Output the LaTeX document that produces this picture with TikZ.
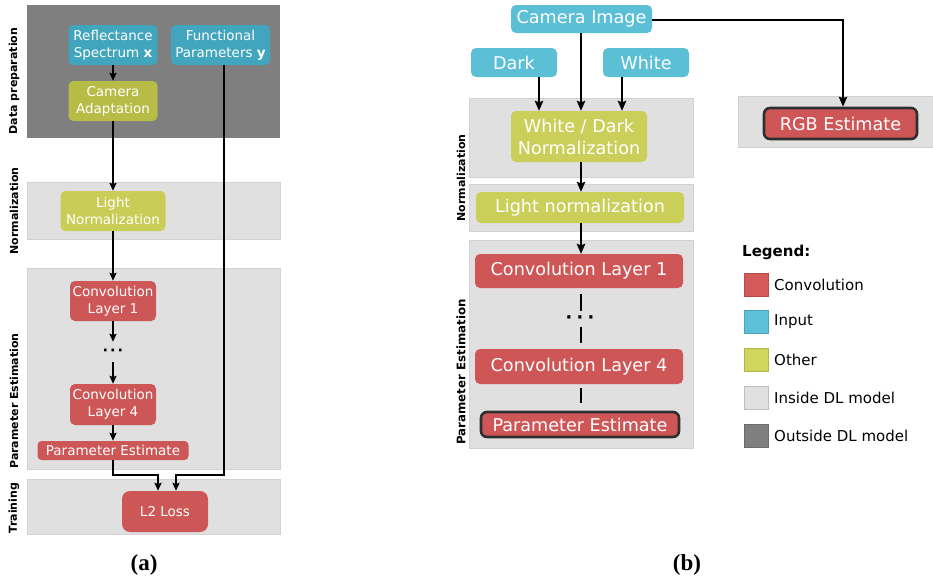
\documentclass[tikz,border=0pt]{standalone}
\usepackage{fontspec}
\newfontfamily\dv{DejaVu Sans}
\newfontfamily\capfont{Liberation Serif}
\usetikzlibrary{arrows.meta,calc}

\definecolor{outside}{HTML}{7F7F7F}
\definecolor{inside}{HTML}{E0E0E0}
\definecolor{insideedge}{HTML}{D2D2D2}
\definecolor{blueL}{HTML}{41A5BD}
\definecolor{greenDL}{HTML}{B6BC46}
\definecolor{greenL}{HTML}{C9CD57}
\definecolor{redL}{HTML}{CD5656}
\definecolor{blueR}{HTML}{5BBFD6}
\definecolor{greenR}{HTML}{C9CF59}
\definecolor{redR}{HTML}{CF5656}
\definecolor{legred}{HTML}{D45A5A}
\definecolor{legblue}{HTML}{5BC0D8}
\definecolor{leggreen}{HTML}{CED65B}
\definecolor{edgedark}{HTML}{2F2F2F}

\tikzset{
  band/.style={fill=inside, draw=insideedge, line width=0.6pt},
  darkband/.style={fill=outside},
  lbox/.style={rounded corners=5pt, text=white, align=center, inner sep=0pt,
    font=\dv\fontsize{13.5}{17}\selectfont},
  rbox/.style={rounded corners=5pt, text=white, align=center, inner sep=0pt,
    font=\dv\fontsize{17.6}{22}\selectfont},
  outlined/.style={draw=edgedark, line width=2.6pt, rounded corners=6pt},
  sidelabel/.style={rotate=90, font=\dv\bfseries\fontsize{11}{13}\selectfont},
  larr/.style={line width=1.8pt, -{Stealth[length=8pt,width=7pt,inset=1.2pt]}},
  rarr/.style={line width=1.7pt, -{Stealth[length=10pt,width=8.5pt,inset=1.5pt]}},
  plain/.style={line width=1.7pt},
  swatch/.style={minimum width=24pt, minimum height=23pt, inner sep=0pt, draw=#1!85!black, line width=0.4pt, fill=#1},
  legtext/.style={anchor=west, inner sep=0pt, font=\dv\fontsize{15}{18}\selectfont},
  figlabel/.style={inner sep=0pt, font=\capfont\bfseries\fontsize{23}{25}\selectfont}
}

\begin{document}
\begin{tikzpicture}[x=1pt, y=-1pt]
\useasboundingbox (0,0) rectangle (933,581);

% ---------------- left pipeline: training setup ----------------
\path[darkband] (27,5) rectangle (280,138);
\path[band] (27,182) rectangle (280,239);
\path[band] (27,268) rectangle (280,469);
\path[band] (27,479) rectangle (280,534);

\node[sidelabel] (lDP) at (14,81) {Data preparation};
\node[sidelabel] (lNO) at (14,211) {Normalization};
\node[sidelabel] (lPE) at (14,401) {Parameter Estimation};
\node[sidelabel] (lTR) at (14,508) {Training};

\node[lbox, fill=blueL, minimum width=89pt, minimum height=40pt] (rs) at (113,45) {Reflectance\\Spectrum \textbf{x}};
\node[lbox, fill=blueL, minimum width=99pt, minimum height=40pt] (fp) at (220.5,45) {Functional\\Parameters \textbf{y}};
\node[lbox, fill=greenDL, minimum width=89pt, minimum height=40pt] (ca) at (113,101) {Camera\\Adaptation};
\node[lbox, fill=greenL, minimum width=105pt, minimum height=40pt] (ln) at (113,211) {Light\\Normalization};
\node[lbox, fill=redL, minimum width=86pt, minimum height=40pt] (c1) at (113,301) {Convolution\\Layer 1};
\node[inner sep=0pt, minimum height=20pt, font=\dv\bfseries\fontsize{14.5}{16}\selectfont] (dl) at (113,352) {·\hspace{2pt}·\hspace{2pt}·};
\node[lbox, fill=redL, minimum width=86pt, minimum height=41pt] (c4) at (113,404.5) {Convolution\\Layer 4};
\node[lbox, fill=redL, rounded corners=4pt, minimum width=151pt, minimum height=19pt] (pe) at (113,450.5) {Parameter Estimate};
\node[lbox, fill=redL, rounded corners=8pt, minimum width=86pt, minimum height=41pt] (l2) at (165,511.5) {L2 Loss};

\draw[larr] (rs) -- (ca);
\draw[larr] (ca) -- (ln);
\draw[larr] (ln) -- (c1);
\draw[larr] (c1) -- (dl);
\draw[larr] (dl) -- (c4);
\draw[larr] (c4) -- (pe);
\draw[larr] (pe.south) -- ++(0,15) -| ($(l2.north)+(-7,0)$);
\draw[larr] ($(fp.south)+(3.5,0)$) -- ++(0,410) -| ($(l2.north)+(11,0)$);

\node[figlabel] (capa) at (144,565) {(a)};

% ---------------- right pipeline: inference ----------------
\path[band] (469,98) rectangle (693,177);
\path[band] (469,184) rectangle (693,231);
\path[band] (469,240) rectangle (693,448);
\path[band] (738,96) rectangle (934,147);

\node[sidelabel] (rNO) at (461,178) {Normalization};
\node[sidelabel, font=\dv\bfseries\fontsize{11.8}{14}\selectfont] (rPE) at (461,372) {Parameter Estimation};

\node[rbox, fill=blueR, minimum width=141pt, minimum height=28pt] (ci) at (581.5,19) {Camera Image};
\node[rbox, fill=blueR, minimum width=86pt, minimum height=29pt] (dk) at (514,62.5) {Dark};
\node[rbox, fill=blueR, minimum width=86pt, minimum height=29pt] (wh) at (646,62.5) {White};
\node[rbox, fill=greenR, minimum width=136pt, minimum height=51pt] (wdn) at (579,136.5) {White / Dark\\Normalization};
\node[rbox, fill=greenR, minimum width=208pt, minimum height=31pt] (lnr) at (580,207.5) {Light normalization};
\node[rbox, fill=redR, minimum width=208pt, minimum height=34pt] (c1r) at (579,271) {Convolution Layer 1};
\node[inner sep=0pt, minimum height=20pt, font=\dv\bfseries\fontsize{17.6}{20}\selectfont] (dr) at (580,320) {·\hspace{4.3pt}·\hspace{4.3pt}·};
\node[rbox, fill=redR, minimum width=208pt, minimum height=35pt] (c4r) at (579,366.5) {Convolution Layer 4};
\node[rbox, fill=redR, outlined, minimum width=198pt, minimum height=25pt] (per) at (580,424.5) {Parameter Estimate};
\node[rbox, fill=redR, outlined, minimum width=153pt, minimum height=31pt] (rgb) at (840.5,123.5) {RGB Estimate};

\coordinate (dkout) at ($(dk.south)+(25,0)$);
\coordinate (whout) at ($(wh.south)+(-24,0)$);
\coordinate (ciout) at ($(ci.south)+(-0.5,0)$);
\coordinate (spine) at ($(lnr.south)+(1,0)$);
\draw[rarr] (dkout) -- (dkout |- wdn.north);
\draw[rarr] (whout) -- (whout |- wdn.north);
\draw[rarr] (ciout) -- (ciout |- wdn.north);
\draw[rarr] (ciout |- wdn.south) -- (ciout |- lnr.north);
\draw[rarr] (spine) -- (spine |- c1r.north);
\draw[plain, shorten <=6pt, shorten >=9pt] (spine |- c1r.south) -- (spine |- dr.center);
\draw[plain, shorten <=7pt, shorten >=6pt] (spine |- dr.center) -- (spine |- c4r.north);
\draw[plain, shorten <=4pt, shorten >=8pt] (spine |- c4r.south) -- (spine |- per.north);
\draw[rarr] (ci.east |- 0,20) -| ($(rgb.north)+(2.5,0)$);

% legend
\node[anchor=west, inner sep=0pt, font=\dv\bfseries\fontsize{15}{18}\selectfont] (leg) at (742,252) {Legend:};
\node[swatch=legred] (s1) at (756,284.5) {};
\node[swatch=legblue] (s2) at (756,322) {};
\node[swatch=leggreen] (s3) at (756,359.5) {};
\node[swatch=inside] (s4) at (756,397.5) {};
\node[swatch=outside] (s5) at (756,435.5) {};
\node[legtext] (t1) at (774,284.5) {Convolution};
\node[legtext] (t2) at (774,322) {Input};
\node[legtext] (t3) at (774,359.5) {Other};
\node[legtext] (t4) at (774,397.5) {Inside DL model};
\node[legtext] (t5) at (774,435.5) {Outside DL model};

\node[figlabel] (capb) at (687,565) {(b)};
\end{tikzpicture}
\end{document}
